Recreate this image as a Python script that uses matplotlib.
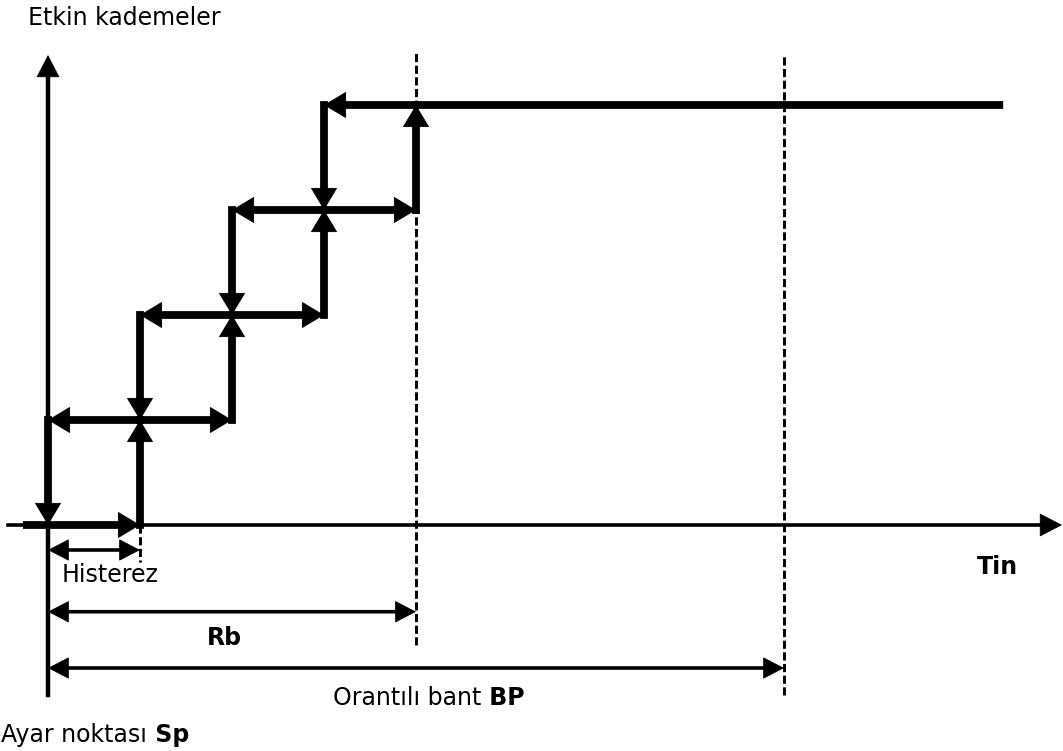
import matplotlib.pyplot as plt

# stages (active steps) and switching points, in hysteresis units from Sp
stages = [0, 1, 2, 3, 4]
on_x = [1, 2, 3, 4]      # Tin where a stage switches on
off_x = [0, 1, 2, 3]     # Tin where it switches off again
hyst = 1
rb = 4
bp = 8
x_first = -0.23
x_last = 10.34

fig = plt.figure(figsize=(10.63, 7.51), dpi=100)
ax = fig.add_axes([0, 0, 1, 1])
ax.set_xlim(-48 / 92, 1015 / 92)
ax.set_ylim(-226 / 105, 525 / 105)
ax.axis('off')


def seg(p0, p1, lw, head=None, both=False, hw=0.55):
    # thick shaft, shortened a bit so the arrow tips stay sharp
    short = 0 if head is None else 0.6 * head
    ax.annotate('', xy=p1, xytext=p0,
                arrowprops=dict(arrowstyle='-', lw=lw, color='black',
                                shrinkA=short if both else 0, shrinkB=short,
                                capstyle='projecting'))
    if head:
        style = '<|-|>' if both else '-|>'
        ax.annotate('', xy=p1, xytext=p0,
                    arrowprops=dict(arrowstyle=f'{style},head_length=1,head_width={hw}',
                                    mutation_scale=head, lw=0.6, color='black',
                                    shrinkA=0, shrinkB=0))


# axes
seg((-0.435, 0), (1014 / 92, 0), 2.6, head=15, hw=0.52)
seg((0, -1.619), (0, 4.476), 3.2, head=15, hw=0.52)

# dashed guide lines
dash = (0, (2.8, 1.2))
ax.plot([rb, rb], [-1.143, 4.495], color='black', lw=2.1, ls=dash)
ax.plot([bp, bp], [-1.619, 4.486], color='black', lw=2.1, ls=dash)
ax.plot([hyst, hyst], [0, -0.352], color='black', lw=2.1, ls=dash)

# rising path
up_pts = [(x_first, stages[0])]
for k, x in enumerate(on_x):
    up_pts += [(x, stages[k]), (x, stages[k + 1])]
for a, b in zip(up_pts[:-1], up_pts[1:]):
    seg(a, b, 5.6, head=15, hw=0.6)
seg(up_pts[-1], (x_last, stages[-1]), 5.6)

# falling path
down_pts = [(on_x[-1], stages[-1])]
for k in range(len(off_x) - 1, -1, -1):
    down_pts += [(off_x[k], stages[k + 1]), (off_x[k], stages[k])]
for a, b in zip(down_pts[:-1], down_pts[1:]):
    seg(a, b, 5.6, head=15, hw=0.6)

# dimension arrows
seg((0, -0.238), (hyst, -0.238), 2.6, head=14, both=True, hw=0.52)
seg((0, -0.826), (rb, -0.826), 2.6, head=14, both=True, hw=0.52)
seg((0, -1.362), (bp, -1.362), 2.6, head=14, both=True, hw=0.52)

fs = 17
ax.text(-0.217, 4.762, 'Etkin kademeler', fontsize=fs, va='baseline')
ax.text(0.152, -0.543, 'Histerez', fontsize=fs, va='baseline')
ax.text(1.92, -1.143, 'Rb', fontsize=fs, fontweight='bold', ha='center', va='baseline')
ax.text(10.1, -0.467, 'Tin', fontsize=fs, fontweight='bold', va='baseline')

t1 = ax.text(3.098, -1.714, 'Orantılı bant', fontsize=fs, va='baseline')
ax.annotate(' BP', xy=(1, 0), xycoords=t1, fontsize=fs, fontweight='bold', va='bottom')
t2 = ax.text(-0.51, -2.067, 'Ayar noktası', fontsize=fs, va='baseline')
ax.annotate(' Sp', xy=(1, 0), xycoords=t2, fontsize=fs, fontweight='bold', va='bottom')

plt.savefig('out.png', dpi=100)
